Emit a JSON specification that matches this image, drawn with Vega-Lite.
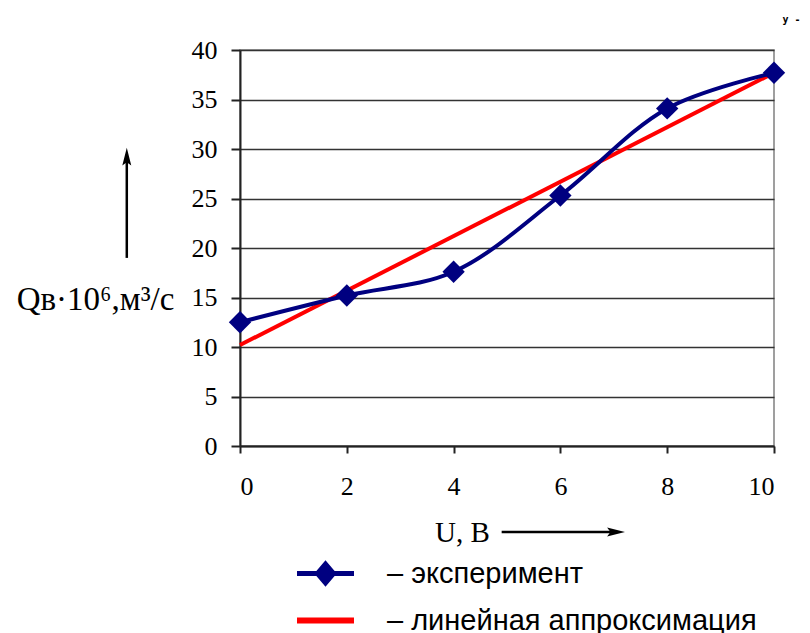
{
  "$schema": "https://vega.github.io/schema/vega-lite/v6.json",
  "width": 534,
  "height": 396,
  "autosize": "none",
  "padding": {"left": 240, "top": 50, "right": 36, "bottom": 187},
  "background": "white",
  "config": {
    "view": {"stroke": "#808080", "strokeWidth": 1.5},
    "axis": {
      "labelFont": "Liberation Serif",
      "labelFontSize": 26,
      "labelColor": "black",
      "tickColor": "#222",
      "tickWidth": 2,
      "domainColor": "#222",
      "domainWidth": 2
    }
  },
  "datasets": {
    "main": [
      {"U": 0, "Q": 12.5, "series": "эксперимент"},
      {"U": 2, "Q": 15.2, "series": "эксперимент"},
      {"U": 4, "Q": 17.6, "series": "эксперимент"},
      {"U": 6, "Q": 25.3, "series": "эксперимент"},
      {"U": 8, "Q": 34.1, "series": "эксперимент"},
      {"U": 10, "Q": 37.7, "series": "эксперимент"},
      {"U": 0, "Q": 10.2, "series": "линейная аппроксимация"},
      {"U": 10, "Q": 37.7, "series": "линейная аппроксимация"}
    ],
    "one": [{"k": 1}]
  },
  "layer": [
    {
      "data": {"name": "main"},
      "transform": [{"filter": "datum.series === 'линейная аппроксимация'"}],
      "mark": {"type": "line", "strokeWidth": 4},
      "encoding": {
        "x": {
          "field": "U", "type": "quantitative",
          "scale": {"domain": [0, 10], "nice": false},
          "axis": {
            "values": [0, 2, 4, 6, 8, 10], "grid": false, "tickSize": 7, "labelPadding": 20,
            "title": "U, В", "titleFont": "Liberation Serif", "titleFontSize": 29, "titleFontWeight": "normal",
            "titleColor": "black",
            "titleX": 222, "titleY": 86, "titleBaseline": "middle", "titleAlign": "center"
          }
        },
        "y": {
          "field": "Q", "type": "quantitative",
          "scale": {"domain": [0, 40], "nice": false},
          "axis": {
            "values": [0, 5, 10, 15, 20, 25, 30, 35, 40], "grid": true, "gridColor": "#333", "gridWidth": 1.5,
            "tickSize": 9, "labelPadding": 14,
            "title": "Qв·10⁶,м³/с", "titleFont": "Liberation Serif", "titleFontSize": 33, "titleFontWeight": "normal",
            "titleColor": "black", "titleAngle": 0,
            "titleX": -145, "titleY": 249, "titleBaseline": "middle", "titleAlign": "center"
          }
        },
        "color": {
          "field": "series", "type": "nominal",
          "scale": {"domain": ["эксперимент", "линейная аппроксимация"], "range": ["#000080", "#FF0000"]},
          "legend": {
            "orient": "none", "legendX": 71, "legendY": 509, "title": null, "direction": "vertical",
            "symbolSize": 812, "labelFont": "Liberation Sans", "labelFontSize": 29, "labelColor": "black",
            "labelOffset": 47, "rowPadding": 13, "labelLimit": 600,
            "labelExpr": "'– ' + datum.label",
            "encode": {
              "symbols": {
                "update": {
                  "shape": {"signal": "datum.value === 'эксперимент' ? 'M-2,0H2M0,-0.66L0.56,0L0,0.66L-0.56,0Z' : 'M-2,0H2'"},
                  "fill": {"signal": "datum.value === 'эксперимент' ? '#000080' : 'transparent'"},
                  "stroke": {"signal": "datum.value === 'эксперимент' ? '#000080' : '#FF3300'"},
                  "strokeWidth": {"signal": "datum.value === 'эксперимент' ? 5 : 6"},
                  "opacity": {"value": 1}
                }
              }
            }
          }
        }
      }
    },
    {
      "data": {"name": "main"},
      "transform": [{"filter": "datum.series === 'эксперимент'"}],
      "mark": {"type": "line", "strokeWidth": 4, "interpolate": "catmull-rom"},
      "encoding": {
        "x": {"field": "U", "type": "quantitative"},
        "y": {"field": "Q", "type": "quantitative"},
        "color": {"field": "series", "type": "nominal"}
      }
    },
    {
      "data": {"name": "main"},
      "transform": [{"filter": "datum.series === 'эксперимент'"}],
      "mark": {"type": "point", "shape": "diamond", "filled": true, "size": 500, "opacity": 1},
      "encoding": {
        "x": {"field": "U", "type": "quantitative"},
        "y": {"field": "Q", "type": "quantitative"},
        "color": {"field": "series", "type": "nominal"}
      }
    },
    {
      "data": {"name": "one"},
      "mark": {"type": "rule", "color": "black", "strokeWidth": 2.5},
      "encoding": {"x": {"datum": -2.12}, "y": {"datum": 19.0}, "y2": {"datum": 29.0}}
    },
    {
      "data": {"name": "one"},
      "mark": {"type": "point", "filled": true, "color": "black", "opacity": 1, "size": 500,
               "shape": "M0,-1L0.4,0.6L0,0.3L-0.4,0.6Z"},
      "encoding": {"x": {"datum": -2.12}, "y": {"datum": 29.0}}
    },
    {
      "data": {"name": "one"},
      "mark": {"type": "rule", "color": "black", "strokeWidth": 2.5},
      "encoding": {"x": {"datum": 4.9}, "x2": {"datum": 7.0}, "y": {"datum": -8.69}}
    },
    {
      "data": {"name": "one"},
      "mark": {"type": "point", "filled": true, "color": "black", "opacity": 1, "size": 500,
               "shape": "M1,0L-0.6,0.4L-0.3,0L-0.6,-0.4Z"},
      "encoding": {"x": {"datum": 7.0}, "y": {"datum": -8.69}}
    },
    {
      "data": {"name": "one"},
      "mark": {"type": "text", "text": "y -", "font": "DejaVu Sans Mono", "fontWeight": "bold", "fontSize": 10, "align": "left", "baseline": "middle", "color": "black"},
      "encoding": {"x": {"datum": 10.16}, "y": {"datum": 43.0}}
    }
  ]
}
